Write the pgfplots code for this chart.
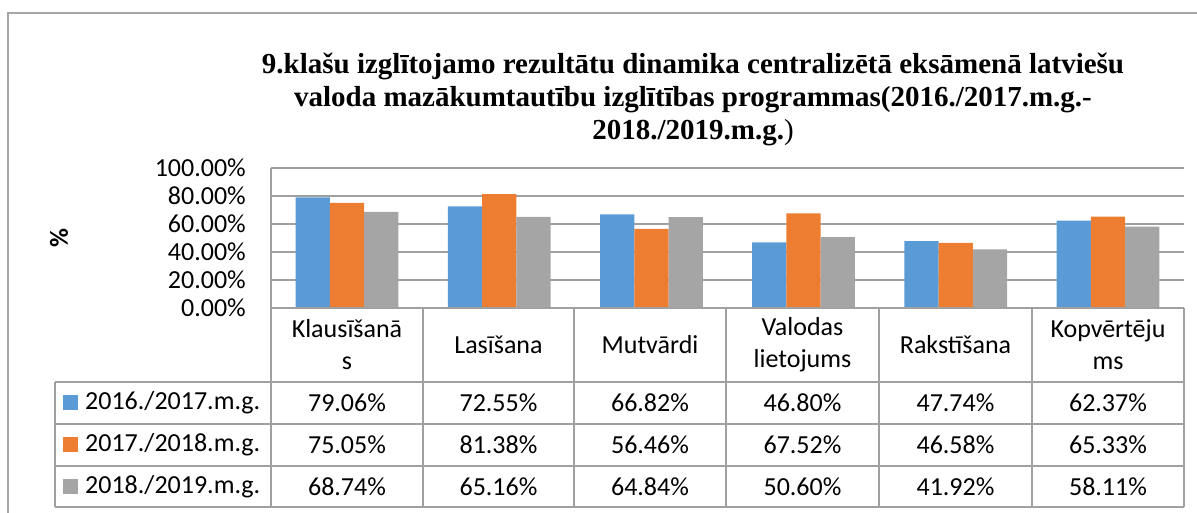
\documentclass[border=0pt]{standalone}
\usepackage{fontspec}
\setmainfont{Carlito}
\newfontfamily\titlefont{Liberation Serif}
\usepackage{pgfplots}
\pgfplotsset{compat=1.18}
\definecolor{s1}{HTML}{5B9BD5}
\definecolor{s2}{HTML}{ED7D31}
\definecolor{s3}{HTML}{A5A5A5}
\definecolor{tab}{HTML}{A0A0A0}
\definecolor{frm}{HTML}{A6A6A6}
\newcommand{\tf}{\fontsize{26}{32}\selectfont}
\begin{document}
\begin{tikzpicture}[x=1pt,y=1pt]
\path[use as bounding box] (0,0) rectangle (1197,513);
\draw[frm, line width=1.2pt] (8,0) -- (8,500) -- (1197,500);
\node[font=\titlefont\bfseries\fontsize{29}{33}\selectfont, align=center] at (693,414)
  {9.klašu izglītojamo rezultātu dinamika centralizētā eksāmenā latviešu\\
   valoda mazākumtautību izglītības programmas(2016./2017.m.g.-\\
   2018./2019.m.g.{\mdseries)}};
\node[rotate=90, font=\tf\bfseries] at (59,275) {\%};
\begin{axis}[
  at={(271pt,205pt)}, anchor=origin, scale only axis,
  width=913pt, height=140pt,
  xmin=0, xmax=6, ymin=0, ymax=100,
  hide x axis,
  axis y line*=left,
  y axis line style={tab, line width=1.2pt},
  ytick={0,20,40,60,80,100},
  yticklabels={0.00\%,20.00\%,40.00\%,60.00\%,80.00\%,100.00\%},
  yticklabel style={font=\tf, anchor=east, inner sep=0pt, xshift=-25pt},
  major tick length=0pt,
  ymajorgrids, grid style={tab, line width=1.2pt},
  ybar=0pt, bar width=0.225,
  clip=false,
]
\addplot[fill=s1, draw=none] coordinates {(0.5,79.06) (1.5,72.55) (2.5,66.82) (3.5,46.80) (4.5,47.74) (5.5,62.37)};
\addplot[fill=s2, draw=none] coordinates {(0.5,75.05) (1.5,81.38) (2.5,56.46) (3.5,67.52) (4.5,46.58) (5.5,65.33)};
\addplot[fill=s3, draw=none] coordinates {(0.5,68.74) (1.5,65.16) (2.5,64.84) (3.5,50.60) (4.5,41.92) (5.5,58.11)};
\end{axis}
% data table
\draw[tab, line width=1.2pt] (271,205) -- (1184,205);
\foreach \yy in {131,89,47,6} \draw[tab, line width=1.2pt] (55,\yy) -- (1184,\yy);
\foreach \xx in {271,423,574,726,879,1032,1184} \draw[tab, line width=1.2pt] (\xx,205) -- (\xx,6);
\draw[tab, line width=1.2pt] (55,131) -- (55,6);
\begin{scope}[every node/.style={font=\tf, align=center, inner sep=0pt}]
\node at (347,168) {Klausīšanā\\s};
\node at (498.5,168) {Lasīšana};
\node at (650,168) {Mutvārdi};
\node at (802.5,168) {Valodas\\lietojums};
\node at (955.5,168) {Rakstīšana};
\node at (1108,168) {Kopvērtēju\\ms};
\fill[s1] (62.5,102.5) rectangle (77.5,117.5);
\fill[s2] (62.5,60.5) rectangle (77.5,75.5);
\fill[s3] (62.5,18.5) rectangle (77.5,33.5);
\node[anchor=west] at (85,110) {2016./2017.m.g.};
\node[anchor=west] at (85,68) {2017./2018.m.g.};
\node[anchor=west] at (85,26.5) {2018./2019.m.g.};
\node at (347,110) {79.06\%};
\node at (498.5,110) {72.55\%};
\node at (650,110) {66.82\%};
\node at (802.5,110) {46.80\%};
\node at (955.5,110) {47.74\%};
\node at (1108,110) {62.37\%};
\node at (347,68) {75.05\%};
\node at (498.5,68) {81.38\%};
\node at (650,68) {56.46\%};
\node at (802.5,68) {67.52\%};
\node at (955.5,68) {46.58\%};
\node at (1108,68) {65.33\%};
\node at (347,26.5) {68.74\%};
\node at (498.5,26.5) {65.16\%};
\node at (650,26.5) {64.84\%};
\node at (802.5,26.5) {50.60\%};
\node at (955.5,26.5) {41.92\%};
\node at (1108,26.5) {58.11\%};
\end{scope}
\end{tikzpicture}
\end{document}
